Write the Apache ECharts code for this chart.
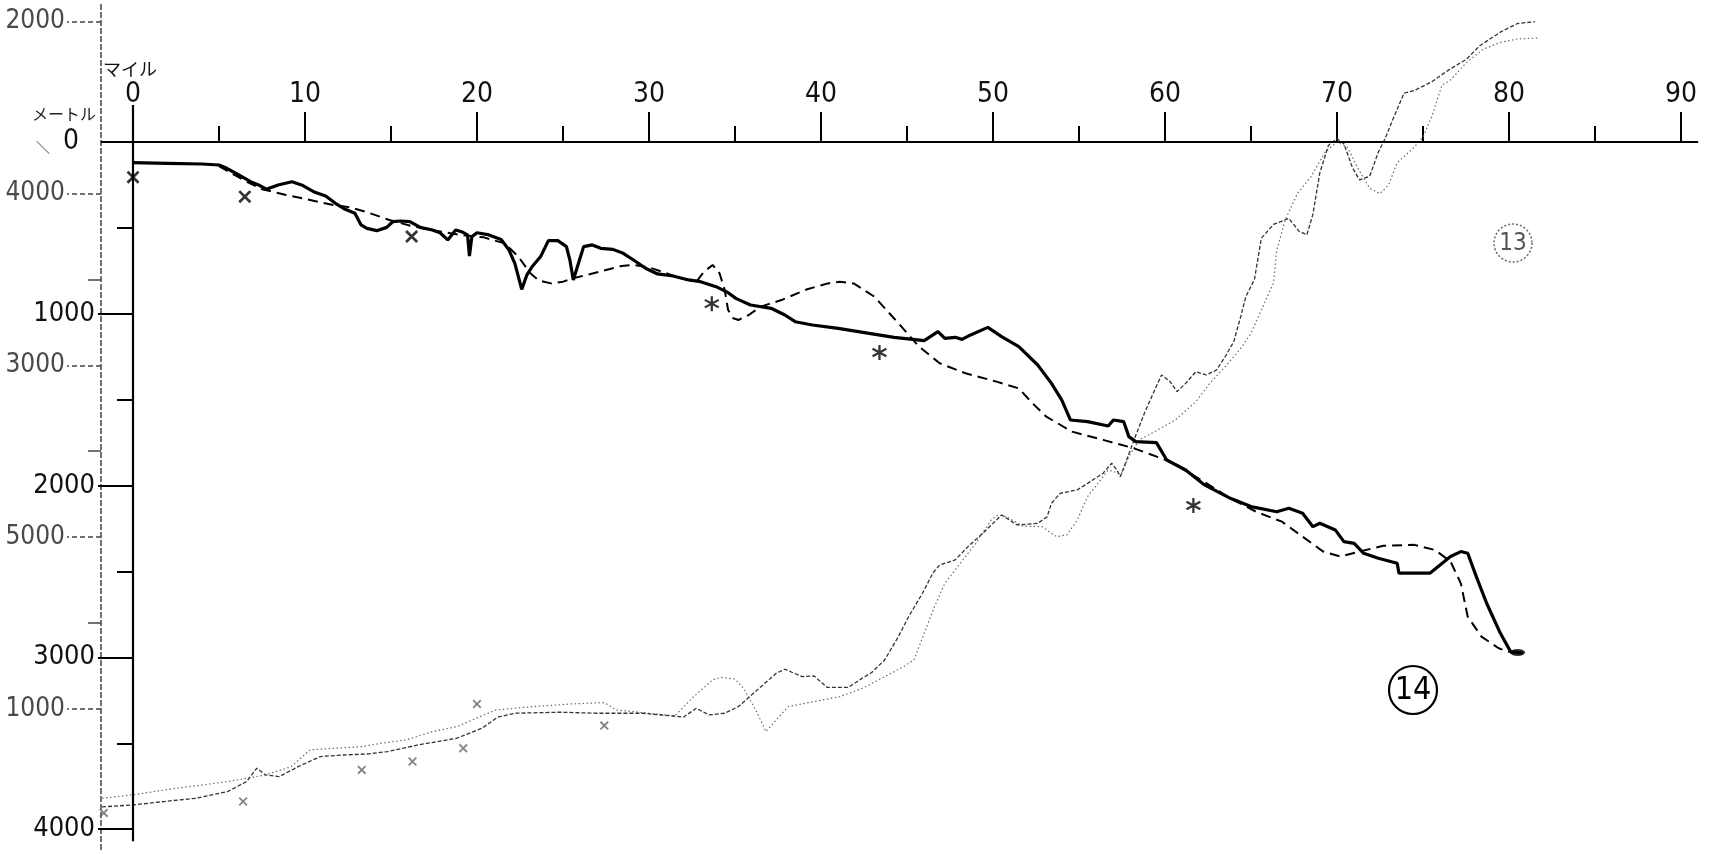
<!DOCTYPE html>
<html><head><meta charset="utf-8">
<script src="https://cdn.jsdelivr.net/npm/echarts@6/dist/echarts.min.js"></script>
<style>html,body{margin:0;padding:0;background:#fff}#c{width:1712px;height:854px}</style>
</head><body><div id="c"></div>
<script>
// ---- data (mile, depth in metres) ----
const mileTicks = [0,10,20,30,40,50,60,70,80,90];
const mileMinorTicks = [5,15,25,35,45,55,65,75,85];
const metreTicks = [0,1000,2000,3000,4000];
const metreMinorTicks = [500,1500,2500,3500];
const outerTickPos = [-700,300,1300,2300,3300];
const outerTickText = ['2000','4000','3000','5000','1000'];
const outerMinorPos = [800,1800,2800];

const p14Solid = [[0,120],[2,124],[4,128],[5.0,134],[5.46,153],[6.15,192],[6.83,231],[7.3,250],[7.75,275],[8.44,250],[9.24,231],[9.8,250],[10.5,289],[11.2,314],[11.77,357],[12.34,392],[12.9,415],[13.26,483],[13.6,503],[14.17,516],[14.75,497],[15.1,464],[15.55,460],[16.1,464],[16.7,497],[17.4,512],[17.85,528],[18.3,570],[18.76,512],[19.1,522],[19.45,541],[19.56,664],[19.7,551],[20.0,528],[20.7,541],[21.4,567],[21.86,629],[22.2,706],[22.6,858],[22.9,774],[23.2,726],[23.7,667],[24.15,574],[24.7,574],[25.2,609],[25.4,687],[25.6,803],[25.9,706],[26.2,609],[26.7,599],[27.2,619],[27.9,625],[28.5,648],[29.1,687],[29.8,735],[30.5,768],[31.4,780],[32.3,803],[33.0,813],[33.9,842],[34.6,877],[35.05,910],[35.9,949],[37.1,968],[37.9,1007],[38.5,1046],[39.5,1065],[41.0,1085],[42.8,1114],[44.25,1137],[46.0,1156],[46.8,1104],[47.2,1143],[47.8,1137],[48.2,1149],[48.7,1123],[49.7,1079],[50.5,1133],[51.5,1191],[52.6,1298],[53.4,1405],[54.0,1502],[54.5,1618],[55.5,1628],[56.7,1653],[57.0,1618],[57.6,1628],[57.9,1715],[58.3,1744],[59.5,1750],[60.1,1851],[61.2,1909],[62.3,1996],[63.8,2074],[65.0,2122],[66.5,2152],[67.2,2132],[68.0,2161],[68.6,2239],[69.0,2219],[69.9,2258],[70.4,2326],[71.0,2336],[71.55,2394],[72.4,2423],[73.5,2452],[73.6,2510],[75.4,2510],[76.6,2413],[77.2,2384],[77.6,2394],[78.1,2530],[78.7,2685],[79.5,2860],[80.1,2968],[80.8,2975]];

const p14Dashed = [[5,140],[5.9,192],[6.6,231],[7.5,275],[8.9,308],[10.3,338],[11.65,367],[12.6,380],[13.5,405],[14.9,454],[16.2,489],[17.6,516],[19.0,541],[20.4,555],[21.6,590],[22.4,667],[23.1,764],[23.6,807],[24.3,823],[25.0,813],[25.6,793],[26.6,768],[27.5,745],[28.4,722],[29.1,716],[30.0,730],[30.9,760],[31.8,793],[32.75,813],[33.2,755],[33.7,716],[34.1,764],[34.4,861],[34.6,978],[34.9,1026],[35.2,1036],[35.8,1007],[36.5,958],[37.7,920],[39.2,857],[40.4,823],[41.1,813],[41.9,823],[43.1,900],[44.5,1055],[45.7,1191],[46.9,1288],[48.4,1346],[50.2,1395],[51.5,1434],[52.3,1521],[53.1,1599],[54.6,1686],[56.4,1734],[58.2,1783],[60.3,1860],[62.1,1967],[63.8,2074],[65.3,2152],[66.8,2210],[68.0,2297],[69.2,2384],[70.2,2413],[71.3,2384],[72.7,2350],[74.5,2345],[75.7,2375],[76.6,2442],[77.2,2569],[77.6,2763],[78.4,2879],[79.4,2947],[80.0,2968]];

const p13A = [[-1.8,3870],[0,3859],[1.79,3839],[3.64,3820],[5.5,3781],[6.6,3723],[7.2,3645],[7.7,3684],[8.5,3694],[9.6,3636],[10.9,3577],[12.2,3568],[13.7,3562],[14.8,3548],[16.6,3509],[18.8,3471],[20.3,3412],[21.2,3348],[22.2,3325],[24.8,3319],[27.0,3325],[29.6,3325],[31.4,3341],[32.0,3348],[32.75,3296],[33.5,3335],[34.4,3325],[35.2,3286],[36.3,3189],[37.4,3092],[37.9,3069],[38.9,3112],[39.6,3108],[40.35,3174],[41.6,3174],[42.4,3121],[42.95,3088],[43.7,3015],[44.5,2879],[45.1,2762],[45.9,2627],[46.5,2510],[46.9,2462],[47.8,2433],[48.55,2355],[49.3,2287],[50.0,2220],[50.5,2171],[51.4,2229],[52.6,2220],[53.15,2181],[53.4,2103],[53.9,2045],[54.9,2025],[55.5,1987],[56.4,1928],[56.9,1870],[57.2,1909],[57.4,1948],[57.7,1870],[58.2,1734],[58.8,1579],[59.4,1443],[59.8,1356],[60.3,1395],[60.7,1453],[61.2,1405],[61.8,1337],[62.4,1356],[63.0,1327],[63.5,1249],[64.0,1162],[64.4,1017],[64.7,900],[65.2,800],[65.6,560],[66.3,480],[67.2,445],[67.8,520],[68.25,540],[68.6,420],[69.0,180],[69.5,20],[70.0,-20],[70.4,10],[70.9,150],[71.3,220],[71.9,200],[72.4,60],[72.8,-20],[73.2,-120],[73.9,-285],[74.5,-300],[75.5,-350],[76.5,-420],[77.5,-480],[78.3,-560],[79.5,-640],[80.5,-690],[81.5,-700]];

const p13B = [[-1.8,3820],[0,3800],[2.5,3762],[5.5,3723],[7.7,3684],[9.2,3636],[10.3,3538],[13.3,3519],[14.4,3500],[15.9,3480],[17.4,3432],[18.85,3403],[19.96,3354],[21.1,3306],[23.3,3286],[25.5,3271],[27.4,3263],[28.1,3306],[30.0,3325],[31.5,3341],[32.6,3228],[33.7,3131],[34.2,3116],[35.0,3127],[35.5,3180],[36.3,3325],[36.8,3432],[37.4,3364],[38.1,3286],[39.6,3257],[41.1,3228],[42.4,3180],[43.7,3112],[44.8,3054],[45.4,3015],[46.0,2860],[46.6,2704],[47.2,2569],[48.1,2452],[49.0,2336],[49.9,2200],[50.3,2171],[50.8,2181],[51.7,2235],[52.85,2239],[53.4,2278],[53.7,2297],[54.3,2287],[54.9,2200],[55.5,2064],[56.1,1987],[56.7,1909],[57.3,1928],[57.4,1948],[57.9,1831],[58.5,1734],[59.4,1686],[60.6,1618],[61.8,1511],[62.6,1405],[63.5,1308],[64.4,1201],[65.0,1114],[65.6,978],[66.3,823],[66.5,629],[67,450],[67.7,300],[68.5,200],[69.3,60],[70,0],[70.6,30],[71.2,150],[71.9,270],[72.5,300],[73,250],[73.5,120],[74.4,40],[75,-29],[75.5,-146],[76.1,-330],[76.6,-361],[77.5,-460],[78.5,-540],[79.5,-580],[80.5,-600],[81.7,-605]];

const p14Cross = [[0,205],[6.5,318],[16.2,550]];
const p14Star = [[33.65,941],[43.4,1225],[61.65,2116]];
const p13Cross = [[-1.7,3905],[6.4,3839],[13.3,3655],[16.25,3606],[19.2,3529],[20.0,3271],[27.4,3397]];
const p14End = [[80.5,2972]];

// axis line extents (data units)
const xAxisLineSpan = [-1.86, 91];
const yAxisLineSpan = [-215, 4070];

const FONT = "'Liberation Sans Narrow','DejaVu Sans Condensed','Liberation Sans',sans-serif";
const CROSS = 'path://M4.1,5.8L5.8,4.1L-4.1,-5.8L-5.8,-4.1Z M-5.8,4.1L-4.1,5.8L5.8,-4.1L4.1,-5.8Z';
const STAR = 'path://M-1,-7L1,-7L1,7L-1,7Z M-6.56,-2.63L-5.56,-4.37L6.56,2.63L5.56,4.37Z M5.56,-4.37L6.56,-2.63L-5.56,4.37L-6.56,2.63Z';

const chart = echarts.init(document.getElementById('c'), null, {renderer:'canvas'});
const XMIN=-5, XMAX=91, YMIN=-800, YMAX=4130;
const G = {left:47, right:13.8, top:4.56, bottom:2.47};
// pixel offsets that put the axes on mile 0 / depth 0
const X0PX = 133, Y0PX = 142;
const baseY = {type:'value', inverse:true, min:YMIN, max:YMAX, position:'left', splitLine:{show:false}};
const baseX = {type:'value', min:XMIN, max:XMAX, position:'top', splitLine:{show:false}};

chart.setOption({
  animation:false,
  backgroundColor:'#fff',
  grid:{left:G.left, right:G.right, top:G.top, bottom:G.bottom, containLabel:false, outerBoundsMode:'none'},
  xAxis:[
    Object.assign({}, baseX, {
      offset:-(Y0PX-G.top),
      axisLine:{show:false, onZero:false},
      axisTick:{show:true, customValues:mileTicks, length:30, lineStyle:{color:'#000', width:2}},
      axisLabel:{show:true, customValues:mileTicks, margin:33, fontSize:28, fontFamily:FONT, color:'#111'}
    }),
    Object.assign({}, baseX, {
      offset:-(Y0PX-G.top),
      axisLine:{show:false, onZero:false},
      axisTick:{show:true, customValues:mileMinorTicks, length:16, lineStyle:{color:'#000', width:2}},
      axisLabel:{show:false}
    })
  ],
  yAxis:[
    Object.assign({}, baseY, {
      offset:-(X0PX-G.left),
      axisLine:{show:false, onZero:false},
      axisTick:{show:true, customValues:metreTicks.filter(v=>v>0), length:35, lineStyle:{color:'#000', width:2}},
      axisLabel:{show:true, customValues:metreTicks, margin:38, fontSize:27, fontFamily:FONT, color:'#111',
        formatter:v => v===0 ? '{z|0}' : String(v),
        rich:{z:{fontSize:28, fontFamily:FONT, color:'#111', padding:[0,16,0,0]}}}
    }),
    Object.assign({}, baseY, {
      offset:-(X0PX-G.left),
      axisLine:{show:false, onZero:false},
      axisTick:{show:true, customValues:metreMinorTicks, length:16, lineStyle:{color:'#000', width:2}},
      axisLabel:{show:false}
    }),
    Object.assign({}, baseY, {
      offset:-54,
      axisLine:{show:true, onZero:false, lineStyle:{color:'#444', width:1.5, type:[5,3]}},
      axisTick:{show:true, customValues:outerTickPos, length:34, lineStyle:{color:'#444', width:1.5, type:[5,3]}},
      axisLabel:{show:true, customValues:outerTickPos, margin:36, fontSize:26, fontFamily:FONT, color:'#4a4a4a',
        formatter:v => { const i = outerTickPos.indexOf(v); return i>=0 ? outerTickText[i] : ''; }}
    }),
    Object.assign({}, baseY, {
      offset:-54,
      axisLine:{show:false, onZero:false},
      axisTick:{show:true, customValues:outerMinorPos, length:13, lineStyle:{color:'#444', width:1.5}},
      axisLabel:{show:false}
    })
  ],
  series:[
    {type:'line', name:'13b', data:p13B, showSymbol:false, symbol:'none', clip:false, silent:true,
      lineStyle:{color:'#6a6a6a', width:1.2, type:[1.5,2.5]}, z:2},
    {type:'line', name:'13a', data:p13A, showSymbol:false, symbol:'none', clip:false, silent:true,
      lineStyle:{color:'#333', width:1.3, type:[4,2]}, z:2},
    {type:'line', name:'14dash', data:p14Dashed, showSymbol:false, symbol:'none', clip:false, silent:true,
      lineStyle:{color:'#000', width:2, type:[10,6]}, z:3},
    {type:'line', name:'14', data:p14Solid, showSymbol:false, symbol:'none', clip:false, silent:true,
      lineStyle:{color:'#000', width:3.2}, z:4,
      markLine:{silent:true, symbol:['none','none'], label:{show:false},
        lineStyle:{color:'#000', width:2.2, type:'solid'},
        data:[
          [{coord:[xAxisLineSpan[0],0]},{coord:[xAxisLineSpan[1],0]}],
          [{coord:[0,yAxisLineSpan[0]]},{coord:[0,yAxisLineSpan[1]]}]
        ]}},
    {type:'scatter', data:p14Cross, symbol:CROSS, symbolSize:13, itemStyle:{color:'#000'}, z:5, silent:true},
    {type:'scatter', data:p14Star, symbol:STAR, symbolSize:15, itemStyle:{color:'#000'}, z:5, silent:true},
    {type:'scatter', data:p13Cross, symbol:CROSS, symbolSize:9, itemStyle:{color:'#666'}, z:5, silent:true},
    {type:'scatter', data:p14End, symbol:'circle', symbolSize:[15,7], itemStyle:{color:'#000'}, z:5, silent:true}
  ],
  graphic:[
    {type:'text', left:103, top:60, style:{text:'マイル', font:"18px 'Noto Sans CJK JP'", fill:'#111'}},
    {type:'text', left:32, top:106, style:{text:'メートル', font:"16px 'Noto Sans CJK JP'", fill:'#222'}},
    {type:'text', left:36, top:140, style:{text:'＼', font:"14px 'Noto Sans CJK JP'", fill:'#444'}},
    {type:'circle', shape:{cx:1513, cy:243, r:19}, style:{fill:'none', stroke:'#666', lineWidth:1.5, lineDash:[2,2]}},
    {type:'text', x:1513, y:244, style:{text:'13', font:"24px "+FONT, fill:'#555', align:'center', verticalAlign:'middle'}},
    {type:'circle', shape:{cx:1413, cy:690, r:24}, style:{fill:'none', stroke:'#000', lineWidth:2.2}},
    {type:'text', x:1413, y:691, style:{text:'14', font:"32px "+FONT, fill:'#000', align:'center', verticalAlign:'middle'}}
  ]
});
</script></body></html>
